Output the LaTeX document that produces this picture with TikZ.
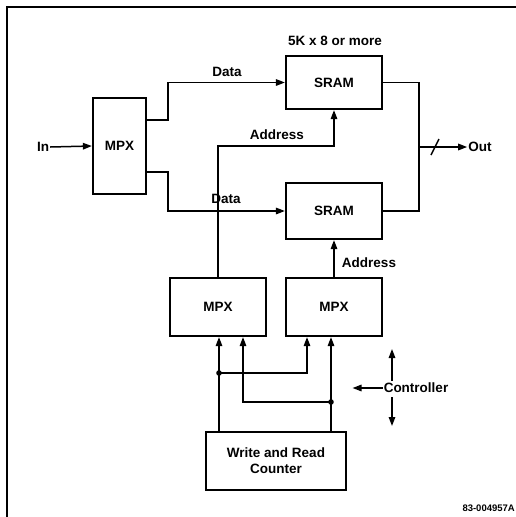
\documentclass[tikz,border=0pt]{standalone}
\usepackage{fontspec}
\setmainfont{Liberation Sans}
\usetikzlibrary{arrows.meta}
\tikzset{
  box/.style={draw, line width=2.2pt, inner sep=0pt, font=\fontsize{13.5}{16}\selectfont\bfseries, align=center},
  lbl/.style={inner sep=1pt, font=\fontsize{13.5}{16}\selectfont\bfseries, align=center},
  wire/.style={line width=1.5pt},
  arr/.style={wire, -{Triangle[length=9pt,width=6.5pt]}},
}
\begin{document}
\begin{tikzpicture}[x=1pt,y=-1pt]
\useasboundingbox (0,0) rectangle (516,517);
% frame
\draw[line width=1.4pt] (516,7) -- (7,7) -- (7,517);
% boxes
\node[box, minimum width=53pt, minimum height=96pt] (mpx) at (119.5,146) {MPX};
\node[box, minimum width=96pt, minimum height=53pt] (sramA) at (334,82.5) {SRAM};
\node[box, minimum width=96pt, minimum height=56pt] (sramB) at (334,211) {SRAM};
\node[box, minimum width=96pt, minimum height=58pt] (mpxL) at (218,307) {MPX};
\node[box, minimum width=96pt, minimum height=58pt] (mpxR) at (334,307) {MPX};
\node[box, minimum width=140pt, minimum height=58pt] (counter) at (276,461) {Write and Read\\Counter};
% labels
\node[lbl] (size) at (335,41) {5K x 8 or more};
\node[lbl] (in) at (43,147) {In};
\node[lbl] (out) at (480,147) {Out};
\node[lbl] (dataA) at (227,72) {Data};
\node[lbl] (dataB) at (226,199) {Data};
\node[lbl] (addrA) at (277,135) {Address};
\node[lbl] (addrB) at (369,263) {Address};
\node[lbl] (ctrl) at (416,388) {Controller};
\node[inner sep=0pt, anchor=east, font=\fontsize{9.5}{11}\selectfont\bfseries] (code) at (515,508) {83-004957A};
% input
\draw[arr] (in.east) -- (mpx.west);
% data lines
\draw[arr] ([yshift=26pt]mpx.east) -- ++(21,0) |- (sramA.west);
\draw[arr] ([yshift=-26pt]mpx.east) -- ++(21,0) |- (sramB.west);
% address lines
\coordinate (abend) at (334,146);
\draw[arr] (mpxL.north) |- (abend) -- (sramA.south);
\draw[arr] (mpxR.north) -- (sramB.south);
% output
\coordinate (oj) at (418,147);
\draw[wire] (sramA.east) -- ++(36,0) |- (sramB.east);
\draw[arr] (oj) -- (out.west);
\draw[wire] (431,155) -- (439,139);
% counter to MPX
\coordinate (c1) at (219,432);
\coordinate (c4) at (331,432);
\coordinate (j1) at (219,373);
\coordinate (j2) at (331,402);
\draw[arr] (c1) -- ([xshift=1pt]mpxL.south);
\draw[arr] (c4) -- ([xshift=-3pt]mpxR.south);
\draw[arr] (j1) -| ([xshift=-27pt]mpxR.south);
\draw[arr] (j2) -| ([xshift=25pt]mpxL.south);
\fill (j1) circle (2.8pt);
\fill (j2) circle (2.8pt);
% controller arrows
\draw[arr] (ctrl.west) -- ++(-30,0);
\coordinate (cu) at (392,381);
\coordinate (cd) at (392,397);
\draw[arr] (cu) -- ++(0,-32);
\draw[arr] (cd) -- ++(0,29);
\end{tikzpicture}
\end{document}
